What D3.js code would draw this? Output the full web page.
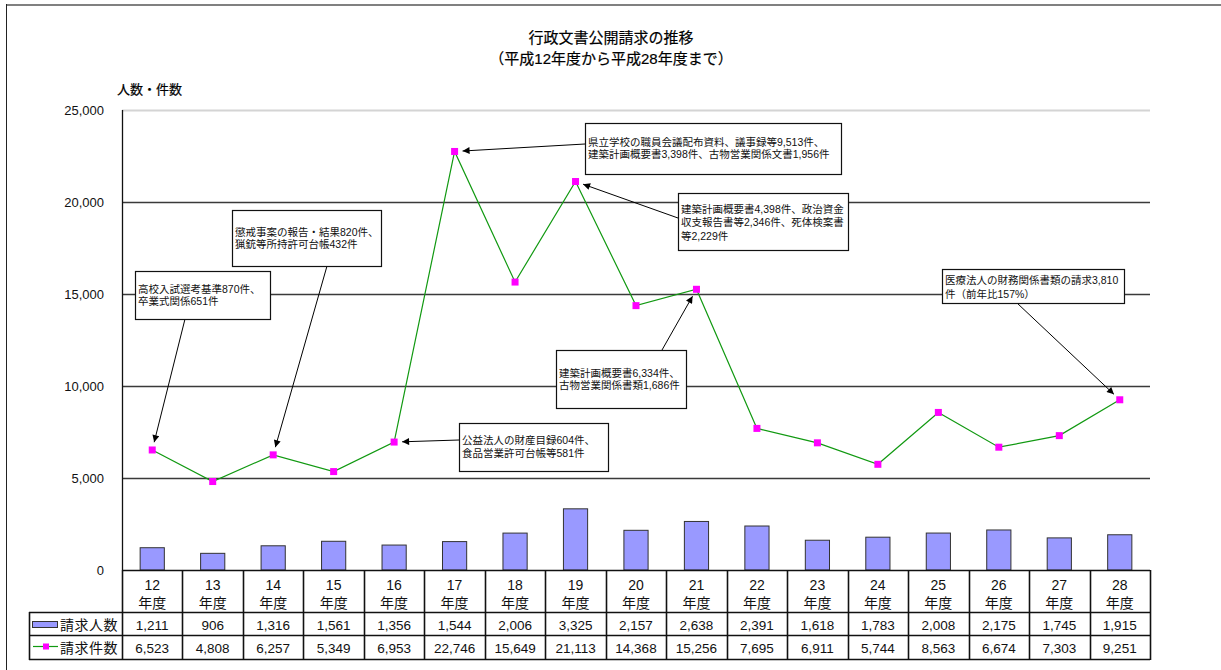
<!DOCTYPE html>
<html><head><meta charset="utf-8">
<script src="https://cdn.jsdelivr.net/npm/d3@7"></script>
<style>
html,body{margin:0;padding:0;background:#fff;}
svg{display:block;font-family:"Liberation Sans","Noto Sans CJK JP",sans-serif;}
</style></head>
<body><svg id="c" width="1221" height="670"></svg>
<script>
const categories = ["12","13","14","15","16","17","18","19","20","21","22","23","24","25","26","27","28"];
const requesters = [1211,906,1316,1561,1356,1544,2006,3325,2157,2638,2391,1618,1783,2008,2175,1745,1915];
const requests = [6523,4808,6257,5349,6953,22746,15649,21113,14368,15256,7695,6911,5744,8563,6674,7303,9251];
const yTicks = [0,5000,10000,15000,20000,25000];
const seriesNames = ["請求人数","請求件数"];
const titleLines = ["行政文書公開請求の推移","（平成12年度から平成28年度まで）"];
const yLabel = "人数・件数";
const catSuffix = "年度";
const annotations = [
  {idx:0, lines:["高校入試選考基準870件、","卒業式関係651件"]},
  {idx:2, lines:["懲戒事案の報告・結果820件、","猟銃等所持許可台帳432件"]},
  {idx:5, lines:["県立学校の職員会議配布資料、議事録等9,513件、","建築計画概要書3,398件、古物営業関係文書1,956件"]},
  {idx:7, lines:["建築計画概要書4,398件、政治資金","収支報告書等2,346件、死体検案書","等2,229件"]},
  {idx:9, lines:["建築計画概要書6,334件、","古物営業関係書類1,686件"]},
  {idx:4, lines:["公益法人の財産目録604件、","食品営業許可台帳等581件"]},
  {idx:16, lines:["医療法人の財務関係書類の請求3,810","件（前年比157%）"]}
];
// layout of annotation boxes (x, y, w, h, first baseline offset, line height, arrow start)
const annLayout = [
  {x:135,y:271,w:135,h:48,b:22,lh:12,fx:185,fy:319},
  {x:232,y:210,w:149,h:56,b:25.5,lh:12,fx:327,fy:266},
  {x:585,y:123,w:256,h:51,b:23,lh:11.5,fx:585,fy:144},
  {x:678,y:193,w:170,h:57,b:20,lh:13.3,fx:678,fy:218},
  {x:556,y:350,w:130,h:58,b:26.5,lh:12,fx:662,fy:350},
  {x:459,y:423,w:149,h:48,b:21,lh:12.7,fx:459,fy:440},
  {x:942,y:269,w:182,h:34,b:14.5,lh:14,fx:1017,fy:303}
];

const svg = d3.select("#c");
const L=122, R=1150, T=110, B=570;
const x = d3.scaleBand().domain(categories).range([L,R]).paddingInner(0).paddingOuter(0);
const y = d3.scaleLinear().domain([0,25000]).range([B,T]);
const cx = c => x(c)+x.bandwidth()/2;
const barW = x.bandwidth()*0.4;

// outer frame
svg.append("line").attr("x1",6).attr("x2",1221).attr("y1",5).attr("y2",5).attr("stroke","#808080").attr("stroke-width",2);
svg.append("line").attr("x1",6.5).attr("x2",6.5).attr("y1",4).attr("y2",670).attr("stroke","#222").attr("stroke-width",1);

// title
svg.append("g").selectAll("text").data(titleLines).join("text")
  .attr("x",611).attr("y",(d,i)=>43+i*21).attr("text-anchor","middle")
  .attr("font-size",15).attr("fill","#000").attr("stroke","#000").attr("stroke-width",0.2).text(d=>d);

// y label
svg.append("text").attr("x",117).attr("y",94).attr("font-size",13).attr("fill","#000").attr("stroke","#000").attr("stroke-width",0.2).text(yLabel);

// gridlines
svg.append("g").selectAll("line").data(yTicks.filter(t=>t>0)).join("line")
  .attr("x1",L).attr("x2",R).attr("y1",d=>Math.round(y(d))+0.5).attr("y2",d=>Math.round(y(d))+0.5)
  .attr("stroke",d=>d===25000?"#d4d4d4":"#3a3a3a").attr("stroke-width",d=>d===25000?2:1.3);

// y axis
const ax = svg.append("g").attr("transform",`translate(${L},0)`)
  .call(d3.axisLeft(y).tickValues(yTicks).tickFormat(d3.format(",")).tickSize(0).tickPadding(18));
ax.select(".domain").remove();
ax.selectAll("text").attr("font-size",13).attr("fill","#111").attr("font-family","Liberation Sans, sans-serif").attr("dy","0.35em");
svg.append("line").attr("x1",L+0.5).attr("x2",L+0.5).attr("y1",T).attr("y2",B).attr("stroke","#111").attr("stroke-width",1.3);

// bars
svg.append("g").selectAll("rect").data(requesters).join("rect")
  .attr("x",(d,i)=>cx(categories[i])-barW/2).attr("width",barW)
  .attr("y",d=>y(d)).attr("height",d=>B-y(d))
  .attr("fill","#9999ff").attr("stroke","#333").attr("stroke-width",1);

// line
const line = d3.line().x((d,i)=>cx(categories[i])).y(d=>y(d));
svg.append("path").datum(requests).attr("d",line).attr("fill","none").attr("stroke","#119911").attr("stroke-width",1.2);
svg.append("g").selectAll("rect").data(requests).join("rect")
  .attr("x",(d,i)=>cx(categories[i])-3.5).attr("y",d=>y(d)-3.5).attr("width",7).attr("height",7)
  .attr("fill","#ff00ff");

// annotations
const defs = svg.append("defs");
defs.append("marker").attr("id","ah").attr("viewBox","0 0 10 10").attr("refX",10).attr("refY",5)
  .attr("markerWidth",9).attr("markerHeight",7).attr("markerUnits","userSpaceOnUse").attr("orient","auto")
  .append("path").attr("d","M0,0 L10,5 L0,10 Z").attr("fill","#000");
annotations.forEach((a,k)=>{
  const lay = annLayout[k];
  const px = cx(categories[a.idx]), py = y(requests[a.idx]);
  const dx = lay.fx-px, dy = lay.fy-py, dist=Math.hypot(dx,dy), gap=8;
  const tx = px+dx/dist*gap, ty = py+dy/dist*gap;
  svg.append("line").attr("x1",lay.fx).attr("y1",lay.fy).attr("x2",tx).attr("y2",ty)
    .attr("stroke","#000").attr("stroke-width",1).attr("marker-end","url(#ah)");
  const g = svg.append("g");
  g.append("rect").attr("x",lay.x+0.5).attr("y",lay.y+0.5).attr("width",lay.w).attr("height",lay.h)
    .attr("fill","#fff").attr("stroke","#111").attr("stroke-width",1.2);
  g.selectAll("text").data(a.lines).join("text")
    .attr("x",lay.x+3).attr("y",(d,i)=>lay.y+lay.b+i*lay.lh)
    .attr("font-size",10.5).attr("fill","#111").text(d=>d);
});

// data table
const rowY = [570,612,635,659];
const tableLeft = 29;
const tg = svg.append("g");
const tStroke = "#111", tW = 1.6;
tg.append("line").attr("x1",L).attr("x2",R).attr("y1",rowY[0]+0.5).attr("y2",rowY[0]+0.5).attr("stroke",tStroke).attr("stroke-width",tW);
[rowY[1],rowY[2],rowY[3]].forEach(yy=>{
  tg.append("line").attr("x1",tableLeft).attr("x2",R).attr("y1",yy+0.5).attr("y2",yy+0.5).attr("stroke",tStroke).attr("stroke-width",tW);
});
const vx = categories.map(c=>x(c)).concat([R]);
tg.selectAll("line.v").data(vx).join("line").attr("class","v")
  .attr("x1",d=>Math.round(d)+0.5).attr("x2",d=>Math.round(d)+0.5).attr("y1",rowY[0]).attr("y2",rowY[3]+1)
  .attr("stroke",tStroke).attr("stroke-width",tW);
tg.append("line").attr("x1",tableLeft+0.5).attr("x2",tableLeft+0.5).attr("y1",rowY[1]).attr("y2",rowY[3]+1).attr("stroke",tStroke).attr("stroke-width",tW);

tg.selectAll("text.h1").data(categories).join("text").attr("class","h1")
  .attr("x",d=>cx(d)).attr("y",590).attr("text-anchor","middle").attr("font-size",14).attr("fill","#111").text(d=>d);
tg.selectAll("text.h2").data(categories).join("text").attr("class","h2")
  .attr("x",d=>cx(d)).attr("y",608).attr("text-anchor","middle").attr("font-size",14).attr("fill","#111").text(catSuffix);
const fmt = d3.format(",");
tg.selectAll("text.r1").data(requesters).join("text").attr("class","r1")
  .attr("x",(d,i)=>cx(categories[i])).attr("y",629.5).attr("text-anchor","middle").attr("font-size",13.5).attr("fill","#111").text(d=>fmt(d));
tg.selectAll("text.r2").data(requests).join("text").attr("class","r2")
  .attr("x",(d,i)=>cx(categories[i])).attr("y",652.5).attr("text-anchor","middle").attr("font-size",13.5).attr("fill","#111").text(d=>fmt(d));

tg.append("rect").attr("x",32.5).attr("y",621.5).attr("width",25).attr("height",6).attr("fill","#9999ff").attr("stroke","#333");
tg.append("line").attr("x1",33).attr("x2",58).attr("y1",646.5).attr("y2",646.5).attr("stroke","#119911").attr("stroke-width",1.2);
tg.append("rect").attr("x",43).attr("y",643.5).attr("width",6).attr("height",6).attr("fill","#ff00ff");
tg.selectAll("text.lg").data(seriesNames).join("text").attr("class","lg")
  .attr("x",60).attr("y",(d,i)=>629.5+i*23).attr("font-size",14).attr("letter-spacing",0.5).attr("fill","#111").text(d=>d);
</script></body></html>
